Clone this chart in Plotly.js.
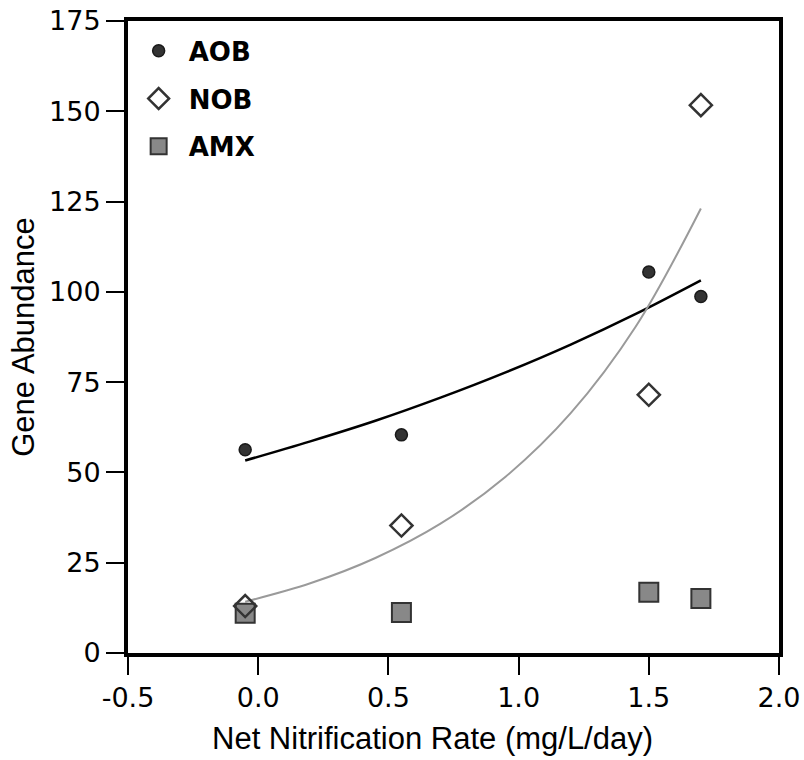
<!DOCTYPE html>
<html>
<head>
<meta charset="utf-8">
<script src="https://cdn.plot.ly/plotly-3.0.1.min.js"></script>
<style>
  html, body { margin: 0; padding: 0; background: #ffffff; }
  #chart { width: 804px; height: 760px; }
</style>
</head>
<body>
<div id="chart"></div>
<script>
// ---- data ----
const rateX = [-0.05, 0.55, 1.5, 1.7];          // Net Nitrification Rate (mg/L/day)
const aobValues = [56.3, 60.4, 105.5, 98.7];     // AOB gene abundance
const nobValues = [13.0, 35.3, 71.5, 151.7];     // NOB gene abundance
const amxValues = [11.0, 11.2, 16.8, 15.1];      // AMX gene abundance

// fitted trend curves
const trendX = [-0.05, 0.2, 0.45, 0.7, 0.95, 1.2, 1.45, 1.7];
const aobTrend = [53.3, 58.6, 64.3, 70.7, 77.7, 85.4, 93.9, 103.2];
const nobTrend = [14.2, 19.3, 26.3, 35.8, 48.8, 66.4, 90.4, 123.1];

const seriesNames = ['AOB', 'NOB', 'AMX'];
const xTickVals = [-0.5, 0.0, 0.5, 1.0, 1.5, 2.0];
const xTickText = ['-0.5', '0.0', '0.5', '1.0', '1.5', '2.0'];
const yTickVals = [0, 25, 50, 75, 100, 125, 150, 175];
const xTitle = 'Net Nitrification Rate (mg/L/day)';
const yTitle = 'Gene Abundance';

const traces = [
  { x: trendX, y: aobTrend, mode: 'lines', type: 'scatter', showlegend: false,
    line: { color: '#000000', width: 2.5, shape: 'spline', smoothing: 1 }, hoverinfo: 'skip' },
  { x: trendX, y: nobTrend, mode: 'lines', type: 'scatter', showlegend: false,
    line: { color: '#9a9a9a', width: 2, shape: 'spline', smoothing: 1 }, hoverinfo: 'skip' },
  { x: rateX, y: amxValues, name: seriesNames[2], legendgroup: 'g3', legendrank: 3,
    mode: 'markers', type: 'scatter',
    marker: { symbol: 'square', size: 19, color: '#888888', line: { color: '#333333', width: 2 } } },
  { x: rateX, y: nobValues, name: seriesNames[1], legendgroup: 'g2', legendrank: 2,
    mode: 'markers', type: 'scatter',
    marker: { symbol: 'diamond-open', size: 17, color: '#333333', line: { width: 2.5 } } },
  { x: rateX, y: aobValues, name: seriesNames[0], legendgroup: 'g1', legendrank: 1,
    mode: 'markers', type: 'scatter',
    marker: { symbol: 'circle', size: 12, color: '#333333', line: { color: '#1a1a1a', width: 1.5 } } }
];

const layout = {
  width: 804, height: 760,
  margin: { l: 128, r: 25, t: 21, b: 107 },
  paper_bgcolor: '#ffffff', plot_bgcolor: '#ffffff',
  showlegend: true,
  legend: {
    x: 0.001, y: 0.99, xanchor: 'left', yanchor: 'top',
    traceorder: 'grouped', tracegroupgap: 11, itemwidth: 50,
    font: { family: 'DejaVu Sans, sans-serif', size: 26, color: '#000000', weight: 'bold' },
    bgcolor: 'rgba(0,0,0,0)', borderwidth: 0, itemsizing: 'trace'
  },
  xaxis: {
    range: [-0.5, 2.0], tickvals: xTickVals, ticktext: xTickText,
    showgrid: false, zeroline: false,
    showline: true, mirror: true, linecolor: '#000000', linewidth: 4,
    ticks: 'outside', ticklen: 18, tickwidth: 2, tickcolor: '#000000',
    tickfont: { family: 'DejaVu Sans, sans-serif', size: 27, color: '#000000' }
  },
  yaxis: {
    range: [0, 175], tickvals: yTickVals,
    showgrid: false, zeroline: false,
    showline: true, mirror: true, linecolor: '#000000', linewidth: 4,
    ticks: 'outside', ticklen: 18, tickwidth: 2, tickcolor: '#000000',
    tickfont: { family: 'DejaVu Sans, sans-serif', size: 27, color: '#000000' },
    title: { text: yTitle, standoff: 6,
             font: { family: 'Liberation Sans, Arial, sans-serif', size: 31, color: '#000000' } }
  },
  annotations: [
    { text: xTitle, xref: 'paper', yref: 'paper', x: 0.4677, y: -0.136,
      xanchor: 'center', yanchor: 'middle', showarrow: false,
      font: { family: 'Liberation Sans, Arial, sans-serif', size: 31, color: '#000000' } }
  ]
};

Plotly.newPlot('chart', traces, layout, { staticPlot: true, displayModeBar: false });
</script>
</body>
</html>
